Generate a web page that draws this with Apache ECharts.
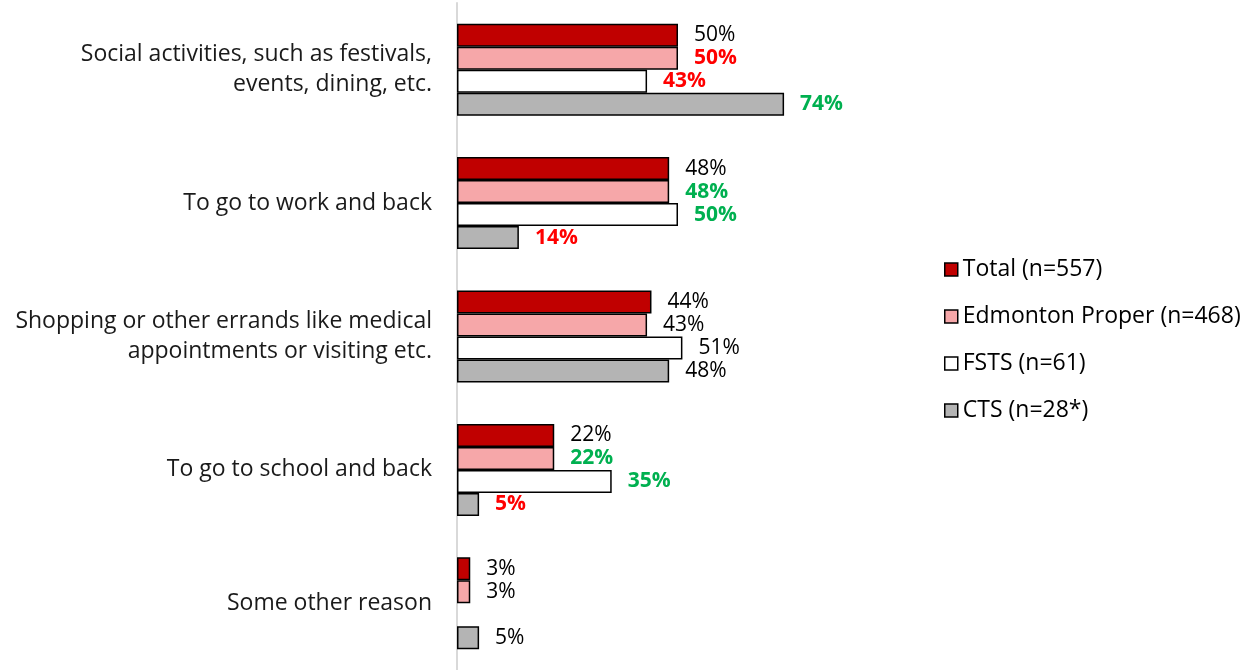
<!DOCTYPE html>
<html>
<head>
<meta charset="utf-8">
<script src="https://cdn.jsdelivr.net/npm/echarts@6/dist/echarts.min.js"></script>
<style>
  html, body { margin: 0; padding: 0; background: #fff; }
  #chart { width: 1250px; height: 670px; }
</style>
</head>
<body>
<div id="chart"></div>
<script>
const categories = [
  "Social activities, such as festivals,\nevents, dining, etc.",
  "To go to work and back",
  "Shopping or other errands like medical\nappointments or visiting etc.",
  "To go to school and back",
  "Some other reason"
];
const seriesNames = ["Total (n=557)", "Edmonton Proper (n=468)", "FSTS (n=61)", "CTS (n=28*)"];
const totalValues = [50, 48, 44, 22, 3];
const edmontonValues = [50, 48, 43, 22, 3];
const fstsValues = [43, 50, 51, 35, null];
const ctsValues = [74, 14, 48, 5, 5];
// significance flags: "hi" = significantly higher, "lo" = significantly lower
const totalSig = ["", "", "", "", ""];
const edmontonSig = ["lo", "hi", "", "hi", ""];
const fstsSig = ["lo", "hi", "", "hi", ""];
const ctsSig = ["hi", "lo", "", "lo", ""];

const fillColors = ["#C00000", "#F6A7A9", "#FFFFFF", "#B4B4B4"];
const sigColor = { hi: "#00B050", lo: "#FF0000", "": "#000000" };

const allValues = [totalValues, edmontonValues, fstsValues, ctsValues];
const allSig = [totalSig, edmontonSig, fstsSig, ctsSig];

const chart = echarts.init(document.getElementById("chart"));

const series = seriesNames.map((name, i) => ({
  name: name,
  type: "bar",
  barGap: "0%",
  barCategoryGap: "31%",
  itemStyle: { color: fillColors[i], borderColor: "#000", borderWidth: 1.5 },
  label: {
    show: true,
    position: "right",
    distance: 16,
    fontSize: 21,
    fontFamily: "Open Sans",
    formatter: p => (p.value == null ? "" : p.value + "%")
  },
  data: allValues[i].map((v, j) => ({
    value: v,
    label: {
      color: sigColor[allSig[i][j]],
      fontWeight: allSig[i][j] ? "bold" : "normal"
    }
  }))
}));

chart.setOption({
  animation: false,
  textStyle: { fontFamily: "Open Sans" },
  legend: {
    orient: "vertical",
    left: 939,
    top: 253,
    itemWidth: 13,
    itemHeight: 13,
    itemGap: 24,
    icon: "rect",
    textStyle: { fontSize: 23, color: "#000", padding: [0, 0, 0, 0] },
    itemStyle: { borderColor: "#000", borderWidth: 1.5 },
    data: seriesNames
  },
  grid: { left: 457, right: 351, top: 3, bottom: 0 },
  xAxis: {
    type: "value",
    min: 0,
    max: 100,
    show: false
  },
  yAxis: {
    type: "category",
    inverse: true,
    data: categories,
    axisLine: { show: true, lineStyle: { color: "#D9D9D9", width: 2 } },
    axisTick: { show: false },
    axisLabel: {
      color: "#1a1a1a",
      fontSize: 23,
      margin: 25,
      lineHeight: 30,
      align: "right"
    }
  },
  series: series
});
</script>
</body>
</html>
